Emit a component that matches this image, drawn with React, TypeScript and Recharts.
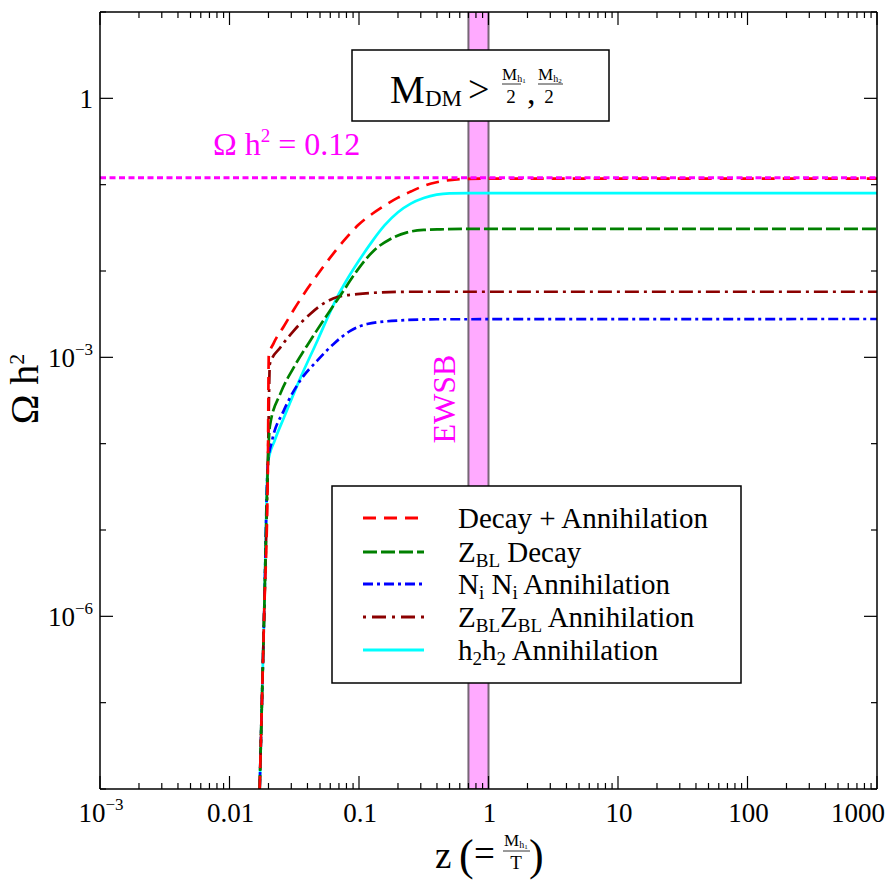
import React from 'react';
import { LineChart, Line, XAxis, YAxis, ReferenceArea, ReferenceLine } from 'recharts';

type Pt = [number, number];

// [z, Omega h^2]
const decayAnnihilation: Pt[] = [
  [0.0171, 1e-8], [0.0185, 1e-6], [0.0198, 6e-5], [0.0201, 1.05e-3], [0.0219, 1.45e-3],
  [0.0263, 2.29e-3], [0.0316, 3.63e-3], [0.0398, 6.17e-3], [0.0501, 0.01], [0.0631, 0.0158],
  [0.0794, 0.024], [0.1, 0.0347], [0.126, 0.0457], [0.158, 0.0575], [0.2, 0.0708],
  [0.251, 0.0832], [0.316, 0.0966], [0.398, 0.1067], [0.5, 0.113], [0.708, 0.117],
  [1, 0.1175], [1000, 0.1175],
];
const zblDecay: Pt[] = [
  [0.0171, 1e-8], [0.0185, 1e-6], [0.0198, 6e-5], [0.0205, 1.6e-4], [0.0247, 3.8e-4],
  [0.0313, 7.6e-4], [0.042, 1.56e-3], [0.0533, 2.7e-3], [0.0718, 5.2e-3], [0.0966, 0.0101],
  [0.13, 0.0172], [0.175, 0.0235], [0.2355, 0.028], [0.316, 0.0299], [0.427, 0.0304],
  [0.7, 0.0307], [1000, 0.0307],
];
const niniAnnihilation: Pt[] = [
  [0.0171, 1e-8], [0.0185, 1e-6], [0.0198, 6e-5], [0.0213, 1.08e-4], [0.0262, 2.4e-4],
  [0.0352, 5.4e-4], [0.0474, 9.1e-4], [0.0637, 1.43e-3], [0.0857, 2.03e-3], [0.1156, 2.43e-3],
  [0.209, 2.68e-3], [0.4, 2.76e-3], [1000, 2.78e-3],
];
const zblzblAnnihilation: Pt[] = [
  [0.0171, 1e-8], [0.0185, 1e-6], [0.0198, 6e-5], [0.0205, 8.4e-4], [0.0247, 1.3e-3],
  [0.0313, 2.03e-3], [0.042, 3.18e-3], [0.0502, 3.96e-3], [0.068, 5.0e-3], [0.0966, 5.4e-3],
  [0.1466, 5.65e-3], [0.25, 5.75e-3], [1000, 5.75e-3],
];
const h2h2Annihilation: Pt[] = [
  [0.0171, 1e-8], [0.0185, 1e-6], [0.0198, 6e-5], [0.0224, 1.1e-4], [0.0263, 2.0e-4],
  [0.0355, 5.9e-4], [0.0479, 1.58e-3], [0.0631, 3.98e-3], [0.068, 5.0e-3], [0.0794, 7.6e-3],
  [0.1, 0.0132], [0.126, 0.0219], [0.158, 0.0339], [0.2, 0.0479], [0.251, 0.0603],
  [0.316, 0.07], [0.398, 0.0767], [0.5, 0.0794], [0.708, 0.08], [1000, 0.08],
];

const relicDensity = 0.12;
const ewsbBand: [number, number] = [0.7, 1];

const xDomain: [number, number] = [1e-3, 1e3];
const yDomain: [number, number] = [1e-8, 10];

// tick value, base text, superscript
const xTickLabels: [number, string, string?][] = [
  [1e-3, '10', '\u22123'], [0.01, '0.01'], [0.1, '0.1'], [1, '1'], [10, '10'], [100, '100'], [1000, '1000'],
];
const yTickLabels: [number, string, string?][] = [
  [1, '1'], [1e-3, '10', '\u22123'], [1e-6, '10', '\u22126'],
];

const xTicks: number[] = [];
for (let d = -3; d < 3; d++) for (let m = 1; m < 10; m++) xTicks.push(+(m * Math.pow(10, d)).toPrecision(3));
xTicks.push(1000);
const yTicks: number[] = [];
for (let d = -8; d <= 1; d++) yTicks.push(Math.pow(10, d));

const FONT = "'Liberation Serif', 'Times New Roman', serif";
const MAGENTA = '#ff00ff';

const series = [
  { key: 'h2h2', data: h2h2Annihilation, color: '#00ffff', dash: undefined as string | undefined },
  { key: 'nini', data: niniAnnihilation, color: '#0000ff', dash: '10 4 3 4' },
  { key: 'zblzbl', data: zblzblAnnihilation, color: '#8b0000', dash: '14 5 3 5' },
  { key: 'zbl', data: zblDecay, color: '#008000', dash: '14 4' },
  { key: 'total', data: decayAnnihilation, color: '#ff0000', dash: '13 8' },
];

const near = (a: number, b: number) => Math.abs(Math.log10(a) - Math.log10(b)) < 1e-6;
const isDecade = (v: number) => Math.abs(Math.log10(v) - Math.round(Math.log10(v))) < 1e-6;

function TickText({ x, y, anchor, lab }: { x: number; y: number; anchor: string; lab: [number, string, string?] }) {
  return (
    <text x={x} y={y} textAnchor={anchor} fontSize={27} fontFamily={FONT} fill="#000">
      {lab[1]}
      {lab[2] && <tspan dy={-12} fontSize={17}>{lab[2]}</tspan>}
    </text>
  );
}

function BottomTick(props: any) {
  const { x, y, payload } = props;
  const v = payload.value;
  const len = isDecade(v) ? 13 : 6;
  const lab = xTickLabels.find(t => near(t[0], v));
  return (
    <g>
      <line x1={x} y1={y} x2={x} y2={y - len} stroke="#000" strokeWidth={1.2} />
      {lab && (
        v >= 1000
          ? <TickText x={885} y={y + 33} anchor="end" lab={lab} />
          : <TickText x={x + 1} y={y + 33} anchor="middle" lab={lab} />
      )}
    </g>
  );
}

function TopTick(props: any) {
  const { x, y, payload } = props;
  const len = isDecade(payload.value) ? 13 : 6;
  return <line x1={x} y1={y} x2={x} y2={y + len} stroke="#000" strokeWidth={1.2} />;
}

function LeftTick(props: any) {
  const { x, y, payload } = props;
  const lab = yTickLabels.find(t => near(t[0], payload.value));
  const len = lab ? 13 : 6;
  return (
    <g>
      <line x1={x} y1={y} x2={x + len} y2={y} stroke="#000" strokeWidth={1.2} />
      {lab && <TickText x={93} y={y + 10} anchor="end" lab={lab} />}
    </g>
  );
}

function RightTick(props: any) {
  const { x, y, payload } = props;
  const lab = yTickLabels.find(t => near(t[0], payload.value));
  const len = lab ? 13 : 6;
  return <line x1={x} y1={y} x2={x - len} y2={y} stroke="#000" strokeWidth={1.2} />;
}

function Sub({ children, size = 19, dy = 5 }: { children: React.ReactNode; size?: number; dy?: number }) {
  return <tspan fontSize={size} dy={dy}>{children}</tspan>;
}

const legendRows = [
  { color: '#ff0000', dash: '13 8' },
  { color: '#008000', dash: '14 4' },
  { color: '#0000ff', dash: '10 4 3 4' },
  { color: '#8b0000', dash: '3 6 14 6' },
  { color: '#00ffff', dash: undefined as string | undefined },
];

function Overlay() {
  const rowY = [518, 552, 584, 617, 650];
  const tx = 458;
  return (
    <svg width={888} height={890} style={{ position: 'absolute', left: 0, top: 0, pointerEvents: 'none' }} fontFamily={FONT}>
      {/* condition box */}
      <rect x={352} y={50} width={257} height={71} fill="#fff" stroke="#000" strokeWidth={1.5} />
      <text x={390} y={103} fontSize={39}>M</text>
      <text x={425} y={106} fontSize={23}>DM</text>
      <text x={468} y={102} fontSize={38}>&gt;</text>
      <text x={502} y={80} fontSize={17}>M<tspan fontSize={10} dy={2}>h</tspan><tspan fontSize={7} dy={1}>1</tspan></text>
      <line x1={502} y1={84} x2={521} y2={84} stroke="#000" strokeWidth={0.8} />
      <text x={511} y={103} fontSize={19} textAnchor="middle">2</text>
      <text x={527} y={104} fontSize={34}>,</text>
      <text x={538} y={80} fontSize={17}>M<tspan fontSize={10} dy={2}>h</tspan><tspan fontSize={7} dy={1}>2</tspan></text>
      <line x1={538} y1={84} x2={563} y2={84} stroke="#000" strokeWidth={0.8} />
      <text x={549} y={103} fontSize={19} textAnchor="middle">2</text>

      {/* relic density label */}
      <text x={213} y={155} fontSize={32} fill={MAGENTA}>
        {'\u03A9 h'}<tspan dy={-13} fontSize={19}>2</tspan><tspan dy={13}>{' = 0.12'}</tspan>
      </text>

      {/* EWSB */}
      <text x={0} y={0} fontSize={32} fill={MAGENTA} textAnchor="middle" transform="translate(455 399) rotate(-90)">EWSB</text>

      {/* legend */}
      <rect x={332} y={486} width={409} height={197} fill="#fff" stroke="#000" strokeWidth={1.5} />
      {legendRows.map((r, i) => (
        <line key={i} x1={363} y1={rowY[i]} x2={424} y2={rowY[i]} stroke={r.color} strokeWidth={3} strokeDasharray={r.dash} />
      ))}
      <text x={tx} y={rowY[0] + 10} fontSize={29}>Decay + Annihilation</text>
      <text x={tx} y={rowY[1] + 10} fontSize={29}>Z<Sub>BL</Sub><tspan dy={-5}>{' Decay'}</tspan></text>
      <text x={tx} y={rowY[2] + 10} fontSize={29}>N<Sub>i</Sub><tspan dy={-5}>{' N'}</tspan><Sub>i</Sub><tspan dy={-5}>{' Annihilation'}</tspan></text>
      <text x={tx} y={rowY[3] + 10} fontSize={29}>Z<Sub>BL</Sub><tspan dy={-5}>Z</tspan><Sub>BL</Sub><tspan dy={-5}>{' Annihilation'}</tspan></text>
      <text x={tx} y={rowY[4] + 10} fontSize={29}>h<Sub>2</Sub><tspan dy={-5}>h</tspan><Sub>2</Sub><tspan dy={-5}>{' Annihilation'}</tspan></text>

      {/* y title */}
      <text x={0} y={0} fontSize={40} textAnchor="middle" transform="translate(38 389) rotate(-90)">
        {'\u03A9 h'}<tspan dy={-14} fontSize={22}>2</tspan>
      </text>

      {/* x title */}
      <text x={435} y={868} fontSize={37}>z</text>
      <text x={459} y={870} fontSize={44}>(</text>
      <text x={474} y={866} fontSize={37}>=</text>
      <text x={504} y={846} fontSize={17}>M<tspan fontSize={10} dy={2}>h</tspan><tspan fontSize={7} dy={1}>1</tspan></text>
      <line x1={503} y1={851} x2={530} y2={851} stroke="#000" strokeWidth={0.8} />
      <text x={516} y={869} fontSize={19} textAnchor="middle">T</text>
      <text x={529} y={870} fontSize={44}>)</text>
    </svg>
  );
}

export default function App() {
  return (
    <div style={{ position: 'absolute', left: 0, top: 0, width: 888, height: 890, background: '#fff', fontFamily: FONT }}>
      <LineChart width={888} height={890} margin={{ top: 11, right: 10, bottom: 41, left: 0 }}>
        <XAxis
          xAxisId="bottom"
          dataKey="z"
          type="number"
          scale="log"
          domain={xDomain}
          allowDataOverflow
          ticks={xTicks}
          interval={0}
          tickSize={0}
          tickMargin={0}
          tickLine={false}
          height={60}
          axisLine={{ stroke: '#000', strokeWidth: 1.5 }}
          tick={BottomTick}
        />
        <XAxis
          xAxisId="top"
          orientation="top"
          dataKey="z"
          type="number"
          scale="log"
          domain={xDomain}
          allowDataOverflow
          ticks={xTicks}
          interval={0}
          tickSize={0}
          tickMargin={0}
          tickLine={false}
          height={1}
          axisLine={{ stroke: '#000', strokeWidth: 1.5 }}
          tick={TopTick}
        />
        <YAxis
          yAxisId="left"
          type="number"
          scale="log"
          domain={yDomain}
          allowDataOverflow
          ticks={yTicks}
          interval={0}
          tickSize={0}
          tickMargin={0}
          tickLine={false}
          width={100}
          axisLine={{ stroke: '#000', strokeWidth: 1.5 }}
          tick={LeftTick}
        />
        <YAxis
          yAxisId="right"
          orientation="right"
          type="number"
          scale="log"
          domain={yDomain}
          allowDataOverflow
          ticks={yTicks}
          interval={0}
          tickSize={0}
          tickMargin={0}
          tickLine={false}
          width={1}
          axisLine={{ stroke: '#000', strokeWidth: 1.5 }}
          tick={RightTick}
        />
        <ReferenceArea
          xAxisId="bottom"
          yAxisId="left"
          x1={ewsbBand[0]}
          x2={ewsbBand[1]}
          y1={yDomain[0]}
          y2={yDomain[1]}
          fill="#ffaaff"
          fillOpacity={1}
          stroke="#776677"
          strokeWidth={2}
          ifOverflow="hidden"
        />
        {series.map(s => (
          <Line
            key={s.key}
            xAxisId="bottom"
            yAxisId="left"
            data={s.data.map(([z, omega]) => ({ z, omega }))}
            dataKey="omega"
            type="monotone"
            stroke={s.color}
            strokeWidth={2.7}
            strokeDasharray={s.dash}
            dot={false}
            activeDot={false}
            isAnimationActive={false}
          />
        ))}
        <ReferenceLine
          xAxisId="bottom"
          yAxisId="left"
          y={relicDensity}
          stroke={MAGENTA}
          strokeWidth={3}
          strokeDasharray="6 3.5"
        />
      </LineChart>
      <Overlay />
    </div>
  );
}
